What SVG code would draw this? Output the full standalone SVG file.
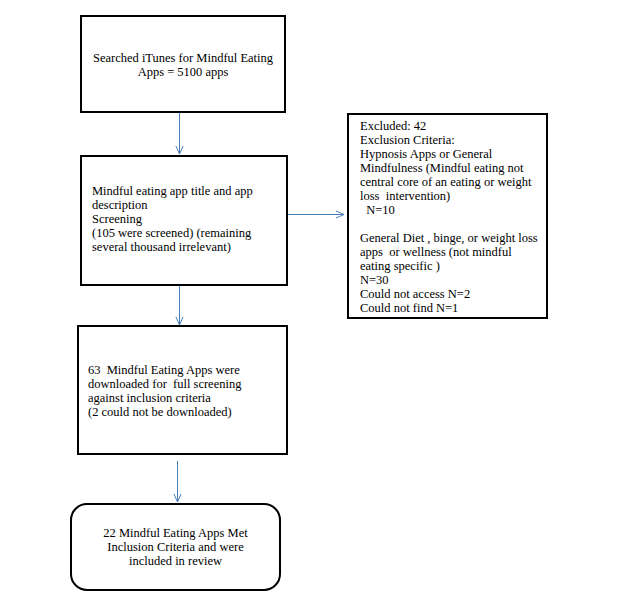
<svg xmlns="http://www.w3.org/2000/svg" width="619" height="607" viewBox="0 0 619 607">
<style>
.box{fill:#fff;stroke:#000;stroke-width:2}
.t{font-family:"Liberation Serif","DejaVu Serif",serif;font-size:12.5px;fill:#000}
.c{text-anchor:middle}
.conn{stroke:#4a7ebb;stroke-width:1;fill:none}
</style>
<defs>
<marker id="arr" viewBox="0 0 10 10" refX="10" refY="5" markerWidth="9" markerHeight="9" markerUnits="userSpaceOnUse" orient="auto">
<path d="M1,1 L10,5 L1,9" fill="none" stroke="#4a7ebb" stroke-width="1.1"/>
</marker>
</defs>
<rect width="619" height="607" fill="#fff"/>
<g id="connectors">
<line class="conn" x1="179.5" y1="113" x2="179.5" y2="154" marker-end="url(#arr)"/>
<line class="conn" x1="288" y1="214.5" x2="344" y2="214.5" marker-end="url(#arr)"/>
<line class="conn" x1="179.5" y1="286" x2="179.5" y2="325" marker-end="url(#arr)"/>
<line class="conn" x1="177.5" y1="461" x2="177.5" y2="502" marker-end="url(#arr)"/>
</g>
<g id="n1">
<rect class="box" x="81" y="16" width="204" height="96"/>
<text class="t c" x="183" y="62">Searched iTunes for Mindful Eating</text>
<text class="t c" x="183" y="76">Apps = 5100 apps</text>
</g>
<g id="n2">
<rect class="box" x="81" y="156" width="206" height="129"/>
<text class="t" x="92" y="195">Mindful eating app title and app</text>
<text class="t" x="92" y="209">description</text>
<text class="t" x="92" y="223">Screening</text>
<text class="t" x="92" y="237">(105 were screened) (remaining</text>
<text class="t" x="92" y="251">several thousand irrelevant)</text>
</g>
<g id="n3">
<rect class="box" x="348" y="114" width="199" height="204"/>
<text class="t" x="360" y="130">Excluded: 42</text>
<text class="t" x="360" y="144">Exclusion Criteria:</text>
<text class="t" x="360" y="158">Hypnosis Apps or General</text>
<text class="t" x="360" y="172">Mindfulness (Mindful eating not</text>
<text class="t" x="360" y="186">central core of an eating or weight</text>
<text class="t" x="360" y="200" xml:space="preserve">loss  intervention)</text>
<text class="t" x="360" y="214" xml:space="preserve">  N=10</text>
<text class="t" x="360" y="242">General Diet , binge, or weight loss</text>
<text class="t" x="360" y="256" xml:space="preserve">apps  or wellness (not mindful</text>
<text class="t" x="360" y="270">eating specific )</text>
<text class="t" x="360" y="284">N=30</text>
<text class="t" x="360" y="298">Could not access N=2</text>
<text class="t" x="360" y="312">Could not find N=1</text>
</g>
<g id="n4">
<rect class="box" x="78" y="326" width="209" height="128"/>
<text class="t" x="88" y="374" xml:space="preserve">63  Mindful Eating Apps were</text>
<text class="t" x="88" y="388" xml:space="preserve">downloaded for  full screening</text>
<text class="t" x="88" y="402">against inclusion criteria</text>
<text class="t" x="88" y="416">(2 could not be downloaded)</text>
</g>
<g id="n5">
<rect class="box" x="71" y="504" width="209" height="86" rx="16" ry="16"/>
<text class="t c" x="175.5" y="537">22 Mindful Eating Apps Met</text>
<text class="t c" x="175.5" y="551">Inclusion Criteria and were</text>
<text class="t c" x="175.5" y="565">included in review</text>
</g>
</svg>
